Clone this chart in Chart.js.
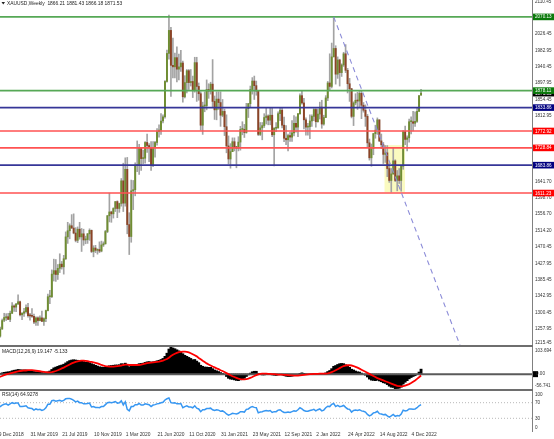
<!DOCTYPE html>
<html><head><meta charset="utf-8">
<script src="https://cdn.jsdelivr.net/npm/chart.js@4.4.0/dist/chart.umd.min.js"></script>
<style>
html,body{margin:0;padding:0;background:#fff;width:554px;height:439px;overflow:hidden;position:relative}
canvas{position:absolute;left:0}
#c1{top:0}#c2{top:347px}#c3{top:391px}
.sep{position:absolute;left:0;width:533px;height:2px;background:#6e6e6e}
</style></head><body>
<canvas id="c1" width="554" height="345"></canvas>
<div class="sep" style="top:345px"></div>
<canvas id="c2" width="554" height="42"></canvas>
<div class="sep" style="top:389px"></div>
<canvas id="c3" width="554" height="48"></canvas>
<script>
// ---------- DATA (weekly XAUUSD, week 0 = 9 Dec 2018) ----------
const OPEN = [1248,1238,1257,1280,1286,1289,1282,1298,1317,1314,1322,1328,1294,1298,1302,1313,1292,1291,1290,1275,1286,1279,1286,1277,1284,1305,1341,1341,1400,1409,1399,1415,1426,1419,1440,1497,1513,1526,1520,1507,1488,1517,1497,1505,1489,1490,1505,1514,1459,1468,1462,1464,1460,1476,1479,1511,
1552,1562,1557,1571,1589,1571,1584,1643,1585,1673,1529,1498,1617,1620,1683,1683,1729,1701,1702,1743,1735,1730,1685,1730,1743,1771,1775,1799,1810,1902,1975,2035,1944,1940,1964,1934,1940,1950,1862,1899,1930,1899,1902,1878,1951,1889,1870,1788,1838,1839,1881,1877,
1895,1850,1828,1856,1847,1814,1824,1784,1734,1700,1719,1745,1732,1728,1744,1777,1777,1769,1831,1844,1881,1903,1891,1877,1764,1781,1787,1808,1812,1801,1814,1763,1780,1781,1818,1827,1788,1754,1750,1761,1757,1768,1793,1783,1818,1865,1846,1802,1783,1784,1799,1811,
1829,1797,1817,1835,1791,1808,1859,1898,1889,1966,1988,1921,1958,1925,1945,1974,1931,1896,1883,1811,1846,1853,1851,1871,1840,1827,1811,1742,1703,1727,1766,1775,1802,1747,1737,1712,1716,1675,1644,1661,1695,1644,1656,1644,1681,1771,1751,1755,1797,1797,1793,1798,1824,1866.21];
const HIGH = [1250,1262,1283,1298,1297,1298,1304,1326,1320,1324,1346,1330,1300,1311,1320,1324,1298,1310,1296,1289,1289,1291,1304,1286,1306,1348,1358,1411,1439,1438,1425,1453,1433,1449,1510,1535,1531,1555,1557,1521,1523,1535,1519,1517,1499,1506,1518,1515,1474,1475,1466,1484,1486,1484,1514,1553,
1611,1564,1573,1589,1591,1585,1649,1689,1703,1704,1560,1645,1644,1690,1747,1738,1729,1723,1745,1765,1740,1745,1745,1746,1779,1789,1818,1815,1904,1984,2075,2043,2015,1976,1992,1973,1983,1955,1917,1933,1933,1933,1916,1965,1965,1898,1875,1848,1875,1906,1896,1900,
1959,1864,1875,1875,1875,1855,1830,1815,1760,1740,1755,1755,1733,1758,1785,1797,1790,1845,1845,1890,1912,1916,1903,1878,1795,1795,1818,1834,1815,1832,1832,1782,1795,1823,1834,1834,1809,1787,1765,1770,1800,1813,1810,1818,1870,1877,1858,1807,1793,1815,1815,1831,
1831,1830,1848,1853,1814,1865,1902,1974,2002,2070,1995,1966,1960,1948,1978,1998,1936,1910,1884,1849,1870,1874,1876,1879,1847,1841,1816,1752,1739,1767,1788,1807,1802,1765,1743,1735,1735,1688,1675,1729,1698,1670,1675,1683,1774,1786,1760,1804,1810,1824,1823,1833,1865,1881.43];
const LOW = [1234,1236,1256,1276,1279,1281,1276,1297,1303,1302,1321,1291,1281,1290,1298,1288,1280,1287,1271,1266,1266,1278,1276,1266,1276,1304,1323,1339,1382,1381,1386,1404,1413,1400,1438,1480,1492,1519,1505,1484,1482,1491,1459,1475,1479,1480,1488,1456,1445,1456,1452,1456,1458,1472,1478,1508,
1536,1535,1546,1563,1547,1561,1577,1563,1577,1505,1451,1483,1568,1604,1667,1660,1670,1688,1689,1717,1693,1670,1680,1705,1736,1757,1764,1794,1806,1900,1960,1863,1911,1911,1901,1906,1928,1848,1859,1872,1881,1890,1860,1874,1850,1853,1775,1764,1823,1828,1858,1869,
1835,1803,1802,1829,1785,1810,1761,1716,1687,1676,1719,1721,1677,1721,1723,1763,1756,1767,1808,1835,1869,1855,1866,1761,1761,1750,1782,1791,1789,1789,1758,1682,1771,1780,1800,1781,1745,1737,1721,1746,1746,1760,1770,1758,1816,1843,1778,1762,1762,1753,1785,1800,
1783,1796,1804,1780,1788,1808,1852,1878,1885,1966,1895,1910,1890,1915,1941,1925,1872,1850,1807,1787,1841,1829,1836,1805,1822,1785,1732,1697,1681,1711,1754,1764,1745,1727,1688,1691,1654,1639,1614,1660,1641,1617,1636,1616,1673,1737,1721,1744,1765,1773,1785,1795,1824,1866.18];
const CLOSE = [1238,1257,1279,1287,1289,1282,1298,1317,1314,1322,1328,1294,1298,1302,1313,1292,1291,1290,1275,1286,1279,1286,1277,1284,1305,1341,1341,1400,1409,1399,1415,1426,1419,1440,1497,1513,1526,1520,1507,1488,1517,1497,1505,1489,1490,1505,1514,1459,1468,1462,1464,1460,1476,1479,1511,1552,
1562,1557,1571,1589,1571,1584,1643,1585,1673,1529,1498,1617,1620,1683,1683,1729,1701,1702,1743,1735,1730,1685,1730,1743,1771,1775,1799,1810,1902,1975,2035,1944,1940,1964,1934,1940,1950,1862,1899,1930,1899,1902,1878,1951,1889,1870,1788,1838,1839,1881,1877,1895,
1850,1828,1856,1847,1814,1824,1784,1734,1700,1719,1745,1732,1728,1744,1777,1777,1769,1831,1844,1881,1903,1891,1877,1764,1781,1787,1808,1812,1801,1814,1763,1780,1781,1818,1827,1788,1754,1750,1761,1757,1768,1793,1783,1818,1865,1846,1802,1783,1784,1799,1811,1829,
1797,1817,1835,1791,1808,1859,1898,1889,1966,1988,1921,1958,1925,1945,1974,1931,1896,1883,1811,1846,1853,1851,1871,1840,1827,1811,1742,1703,1727,1766,1775,1802,1747,1737,1712,1716,1675,1644,1661,1695,1644,1656,1644,1681,1771,1751,1755,1797,1797,1793,1798,1824,1865,1871.53];
const MACD_MAIN = [0,3,5,7,8,9,10,13,15,16, 18,17,16,16,16,14,13,12,10,9, 8,7,6,5,6,9,12,18,24,27, 30,33,35,38,43,48,52,54,55,54,
53,51,50,48,46,45,44,40,37,34, 31,28,27,26,27,30,32,33,34,35, 35,36,40,39,42,36,28,31,32,35, 37,40,41,42,45,47,48,46,47,48,
51,53,56,60,68,80,96,103.694,100,97, 93,89,86,78,72,68,64,60,55,56, 50,44,34,30,27,27,26,26,21,16, 13,10,6,3,-2,-9,-16,-19,-20,-22,
-24,-25,-22,-19,-16,-9,-3,4,9,11, 11,3,-1,-3,-3,-2,-2,0,-3,-4, -5,-3,-1,-3,-6,-8,-9,-9,-8,-6, -4,-2,3,5,3,1,-1,0,1,2,
1,2,3,1,2,5,10,14,21,30, 33,37,40,41,40,36,31,26,19,16, 12,9,8,4,0,-4,-11,-19,-23,-24, -25,-23,-26,-29,-33,-35,-40,-46,-50,-51,
-56.741,-55,-54,-50,-38,-31,-25,-18,-13,-9, -6,-1,8,19.147];
const MACD_SIGNAL = [-12,-10,-7,-4,-1,1,3,5,7,9, 11,12,13,14,14,15,15,15,14,13, 12,11,10,9,8,7,7,8,10,12, 15,18,22,25,29,33,37,41,44,47,
49,51,52,52,51,50,48,47,45,43, 41,38,35,33,31,30,29,29,29,30, 31,32,33,35,36,36,35,35,35,35, 35,35,36,38,40,42,43,44,45,46,
47,48,50,52,55,58,63,69,74,78, 81,84,85,86,86,85,83,80,76,72, 68,62,57,51,46,41,37,33,29,26, 22,19,15,12,8,4,0,-4,-8,-11,
-14,-17,-19,-20,-20,-19,-17,-14,-11,-7, -4,-1,1,2,2,2,1,1,0,0, -1,-2,-2,-2,-3,-3,-4,-5,-5,-6, -6,-6,-5,-4,-3,-2,-1,0,0,1,
1,1,2,2,2,2,3,5,8,11, 15,19,23,27,31,33,34,34,33,31, 28,25,21,17,13,9,5,1,-3,-7, -11,-15,-18,-21,-24,-27,-30,-33,-36,-39,
-42,-45,-46,-47,-46,-44,-41,-38,-34,-29, -24,-18,-12,-5.133];
const RSI = [57,60,64,66,67,64,67,70,68,69, 69,60,60,61,62,57,56,55,51,54, 52,53,50,52,57,66,66,75,76,74, 75,76,74,76,80,81,81,79,76,72,
74,70,70,67,67,68,69,59,60,58, 58,57,60,60,65,70,71,70,71,73, 69,70,75,64,72,53,49,60,60,65, 65,68,64,64,67,66,65,60,64,65,
67,68,70,71,77,80,82,70,69,70, 67,67,68,57,60,62,59,59,57,62, 56,54,47,52,52,55,55,56,52,50, 52,51,48,49,46,41,38,40,43,42,
41,43,47,47,46,53,54,58,60,58, 57,44,46,47,49,50,49,50,45,47, 47,51,52,48,45,45,46,45,47,49, 48,52,57,54,50,48,48,50,51,53,
49,52,54,49,51,57,61,60,66,68, 60,63,60,61,63,58,54,53,46,50, 51,50,52,49,48,46,40,36,39,44, 45,48,42,41,39,40,36,33,36,40,
35,37,36,41,51,49,50,54,54,53, 54,57,62,64.93];
// x-axis date labels every 16 weeks
const DATE_TICKS = [0,16,32,48,64,80,96,112,128,144,160,176,192,208];
const DATE_LABELS = ['9 Dec 2018','31 Mar 2019','21 Jul 2019','10 Nov 2019','1 Mar 2020','21 Jun 2020','11 Oct 2020','31 Jan 2021','23 May 2021','12 Sep 2021','2 Jan 2022','24 Apr 2022','14 Aug 2022','4 Dec 2022'];
const PRICE_TICKS = [2110.45,2026.45,1982.95,1940.45,1897.95,1854.45,1812.95,1641.70,1598.70,1556.70,1514.20,1470.45,1427.95,1385.45,1342.95,1300.45,1257.95,1215.45];
const LEVELS = [2070.13,1878.11,1833.86,1772.92,1728.84,1683.86,1611.23];
const LEVEL_KIND = ['g','g','b','r','r','b','r'];
const LAST_PRICE = 1871.53;
const TREND_X = [169,232.6];
const TREND_Y = [2070.13,1215.3];
const ZONE_X = [194.6,204.9];
const ZONE_Y = [1613,1736];
const MACD_TICKS = [103.694,-56.741];
const RSI_TICKS = [100,70,30,0];
const RSI_LEVELS = [70,30];
const TITLE_MAIN = 'XAUUSD,Weekly  1866.21 1881.43 1866.18 1871.53';
const TITLE_MACD = 'MACD(12,26,9) 19.147 -5.133';
const TITLE_RSI = 'RSI(14) 64.9278';

// ---------- STYLE ----------
const XMIN = 0.89, XMAX = 268.9;
const LINE_COL = {g:'#56a856', b:'#363698', r:'#ff5252'};
const BOX_COL = {g:'#0b7a0b', b:'#000080', r:'#ff0000'};
const FONT = "4.6px 'Liberation Sans', Arial, sans-serif";
const FONT_X = "4.9px 'Liberation Sans', Arial, sans-serif";
const idx = OPEN.map((_, i) => i);
Chart.defaults.font.family = "'Liberation Sans', Arial, sans-serif";

function baseOptions(ymin, ymax, padBottom) {
  return {
    responsive:false, animation:false, devicePixelRatio:1, events:[],
    layout:{padding:{left:0, right:22, top:0, bottom:padBottom}},
    plugins:{legend:{display:false}, tooltip:{enabled:false}},
    scales:{
      x:{type:'linear', display:false, min:XMIN, max:XMAX, offset:false, grid:{display:false}},
      y:{type:'linear', display:false, min:ymin, max:ymax, grid:{display:false}}
    }
  };
}
function hline(v, color, width, dash, order) {
  return {type:'line', data:[{x:XMIN,y:v},{x:XMAX,y:v}], borderColor:color, borderWidth:width,
    borderDash:dash||[], pointRadius:0, fill:false, order:order};
}
function axisLine(chart, bottom) {
  const ctx = chart.ctx, a = chart.chartArea;
  ctx.strokeStyle = '#808080'; ctx.lineWidth = 1;
  ctx.beginPath(); ctx.moveTo(a.right + 0.5, 0); ctx.lineTo(a.right + 0.5, bottom); ctx.stroke();
}

// ---------- MAIN PRICE CHART ----------
const mainPlugin = {
  id:'mainDecor',
  beforeDatasetsDraw(chart){
    const ctx = chart.ctx, xs = chart.scales.x, ys = chart.scales.y;
    const l = xs.getPixelForValue(ZONE_X[0]), r = xs.getPixelForValue(ZONE_X[1]);
    const t = ys.getPixelForValue(ZONE_Y[1]), b = ys.getPixelForValue(ZONE_Y[0]);
    ctx.save(); ctx.fillStyle = '#fafac0'; ctx.fillRect(l, t, r - l, b - t); ctx.restore();
  },
  afterDraw(chart){
    const ctx = chart.ctx, a = chart.chartArea, ys = chart.scales.y;
    ctx.save();
    axisLine(chart, chart.height);
    ctx.font = FONT; ctx.fillStyle = '#333'; ctx.textAlign = 'left';
    PRICE_TICKS.forEach((v, k) => {
      const py = ys.getPixelForValue(v);
      ctx.textBaseline = (k === PRICE_TICKS.length - 1) ? 'bottom' : 'middle';
      ctx.fillText(v.toFixed(2), a.right + 3, k === PRICE_TICKS.length - 1 ? a.bottom : py);
    });
    const box = (v, col) => {
      const py = ys.getPixelForValue(v);
      ctx.fillStyle = col; ctx.fillRect(a.right + 1, py - 3.3, 21, 6.6);
      ctx.fillStyle = '#fff'; ctx.textBaseline = 'middle'; ctx.fillText(v.toFixed(2), a.right + 3, py + 0.3);
    };
    box(LAST_PRICE, '#000');
    LEVELS.forEach((v, k) => box(v, BOX_COL[LEVEL_KIND[k]]));
    // title
    ctx.fillStyle = '#222';
    ctx.beginPath(); ctx.moveTo(1.5, 2); ctx.lineTo(5, 2); ctx.lineTo(3.25, 4.5); ctx.closePath(); ctx.fill();
    ctx.font = FONT_X; ctx.textBaseline = 'middle'; ctx.fillText(TITLE_MAIN, 7, 3.5);
    ctx.restore();
  }
};
const mainData = {datasets:[
  ...LEVELS.map((v, k) => hline(v, LINE_COL[LEVEL_KIND[k]], 1.6, null, 1)),
  {type:'line', data:TREND_X.map((x, k) => ({x, y:TREND_Y[k]})), borderColor:'#8c8cd8', borderWidth:1.1,
   borderDash:[5,4], pointRadius:0, fill:false, order:0},
  {type:'bar', data:idx.map(i => ({x:i, y:[OPEN[i], CLOSE[i]]})),
   backgroundColor:idx.map(i => CLOSE[i] >= OPEN[i] ? '#6f8d32' : '#8c4426'),
   barThickness:1.3, grouped:false, minBarLength:1, order:2},
  {type:'bar', data:idx.map(i => ({x:i, y:[LOW[i], HIGH[i]]})), backgroundColor:'#a3a3a3',
   barThickness:1, grouped:false, order:3}
]};
new Chart(document.getElementById('c1'), {type:'bar', data:mainData,
  options:baseOptions(1215.3, 2114.2, 0), plugins:[mainPlugin]});

// ---------- MACD ----------
const macdPlugin = {
  id:'macdDecor',
  afterDraw(chart){
    const ctx = chart.ctx, a = chart.chartArea, ys = chart.scales.y;
    ctx.save();
    axisLine(chart, chart.height);
    ctx.font = FONT; ctx.fillStyle = '#333'; ctx.textAlign = 'left';
    ctx.textBaseline = 'top'; ctx.fillText(MACD_TICKS[0].toFixed(3), a.right + 3, a.top + 1.5);
    ctx.textBaseline = 'bottom'; ctx.fillText(MACD_TICKS[1].toFixed(3), a.right + 3, a.bottom - 0.5);
    const pz = ys.getPixelForValue(0);
    ctx.fillStyle = '#000'; ctx.fillRect(a.right + 1, pz - 3, 5, 6);
    ctx.fillStyle = '#333'; ctx.textBaseline = 'middle'; ctx.fillText('0.00', a.right + 4, pz);
    ctx.fillStyle = '#222'; ctx.font = FONT_X; ctx.textBaseline = 'middle';
    ctx.fillText(TITLE_MACD, 2, a.top + 5);
    ctx.restore();
  }
};
new Chart(document.getElementById('c2'), {type:'bar', data:{datasets:[
  {type:'line', data:idx.map(i => ({x:i, y:MACD_SIGNAL[i]})), borderColor:'#ff0000', borderWidth:1.8,
   pointRadius:0, fill:false, order:0},
  hline(0, '#5a5a5a', 2, null, 1),
  {type:'bar', data:idx.map(i => ({x:i, y:MACD_MAIN[i]})), backgroundColor:'#000',
   barThickness:2.2, grouped:false, order:2}
]}, options:baseOptions(-56.741, 103.694, 0), plugins:[macdPlugin]});

// ---------- RSI ----------
const rsiPlugin = {
  id:'rsiDecor',
  afterDraw(chart){
    const ctx = chart.ctx, a = chart.chartArea, ys = chart.scales.y, xs = chart.scales.x;
    ctx.save();
    axisLine(chart, a.bottom + 2);
    ctx.font = FONT; ctx.fillStyle = '#333'; ctx.textAlign = 'left';
    RSI_TICKS.forEach(v => {
      let py = ys.getPixelForValue(v), bl = 'middle';
      if (v === 100) { bl = 'top'; py = a.top + 1.5; }
      if (v === 0) { bl = 'bottom'; py = a.bottom; }
      ctx.textBaseline = bl; ctx.fillText(String(v), a.right + 3, py);
    });
    ctx.font = FONT_X; ctx.textBaseline = 'middle'; ctx.fillStyle = '#333';
    DATE_TICKS.forEach((t, k) => ctx.fillText(DATE_LABELS[k], xs.getPixelForValue(t) + 0.5, a.bottom + 5));
    ctx.fillStyle = '#222'; ctx.fillText(TITLE_RSI, 2, a.top + 4);
    ctx.restore();
  }
};
new Chart(document.getElementById('c3'), {type:'line', data:{datasets:[
  ...RSI_LEVELS.map(v => hline(v, '#b8b8b8', 1, [1,2], 1)),
  {data:idx.map(i => ({x:i, y:RSI[i]})), borderColor:'#3797f2', borderWidth:1.5, pointRadius:0, fill:false, order:0}
]}, options:baseOptions(0, 100, 9), plugins:[rsiPlugin]});
</script>
</body></html>
